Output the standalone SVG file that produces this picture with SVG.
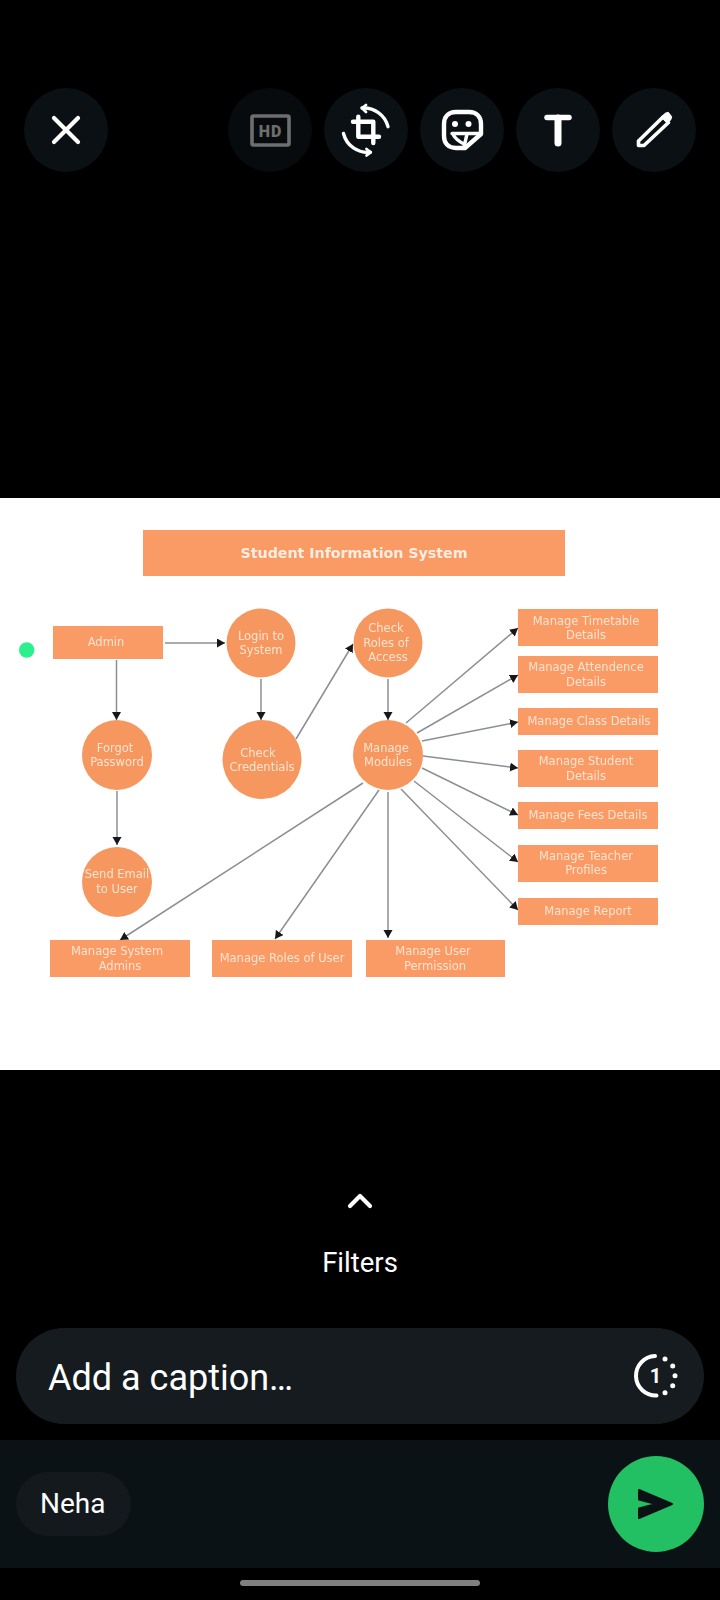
<svg xmlns="http://www.w3.org/2000/svg" width="720" height="1600" viewBox="0 0 720 1600">
<style>
.box{fill:#fa9b66}
.cir{fill:#f6975f}
.t{font-family:"DejaVu Sans",sans-serif;font-size:11.5px;fill:#fde3d0;text-anchor:middle}
.c{stroke:#8b8f94;stroke-width:1.5;fill:none;marker-end:url(#ah)}
.ui{font-family:Roboto,sans-serif;fill:#fff}
.btn{fill:#0a1013}
.ic{fill:none;stroke:#fff;stroke-linecap:round;stroke-linejoin:round}
</style>
<defs>
<marker id="ah" markerUnits="userSpaceOnUse" markerWidth="9" markerHeight="10" refX="8" refY="4.5" orient="auto"><path d="M0 0L8 4.5L0 9Z" fill="#16181a"/></marker>
<filter id="soft" x="-5%" y="-5%" width="110%" height="110%"><feGaussianBlur stdDeviation="0.55"/></filter>
</defs>
<rect width="720" height="1600" fill="#000"/>
<g id="toolbar">
<g id="btn-close"><circle class="btn" cx="66" cy="130" r="42"/><path class="ic" stroke-width="4.200" d="M54 118L78 142M78 118L54 142"/></g>
<g id="btn-hd"><circle cx="270" cy="130" r="42" fill="#070b0d"/><rect x="252" y="116" width="37" height="29" rx="1.5" fill="none" stroke="#6e6e6e" stroke-width="3.6"/><text x="270.500" y="136.500" font-family="Roboto,sans-serif" font-weight="900" font-size="16" letter-spacing="1" fill="#6e6e6e" text-anchor="middle">HD</text></g>
<g id="btn-crop"><circle class="btn" cx="366" cy="130" r="42"/><path class="ic" stroke-width="4.400" d="M353 121.700H373.300V143M358.300 116.700V136.700H379"/><path class="ic" stroke-width="3.400" d="M362 108A25 25 0 0 1 388 126.700M343.500 133.500A25 25 0 0 0 370.500 152.300"/><path class="ic" stroke-width="2.800" d="M362 108L366 105M362 108L366 112M370.500 152.300L366.500 149M370.500 152.300L366.500 155.500"/></g>
<g id="btn-sticker"><circle class="btn" cx="462" cy="130" r="42"/><path class="ic" stroke-width="4.400" d="M456 112H469C476.500 112 481 116.500 481 124V134L465 148H456C448.500 148 444 143.500 444 136V124C444 116.500 448.500 112 456 112Z"/><circle cx="455" cy="124" r="3" fill="#fff"/><circle cx="468.500" cy="124" r="3" fill="#fff"/><path class="ic" stroke-width="3.400" d="M452 133.500H480M453 134.500C456 140 460 142 464 144M467 134L464 147"/></g>
<g id="btn-text"><circle class="btn" cx="558" cy="130" r="42"/><path class="ic" stroke-width="5.500" d="M547 117.500H569"/><path class="ic" stroke-width="7" d="M558 118V143"/></g>
<g id="btn-pen"><circle class="btn" cx="654" cy="130" r="42"/><path class="ic" stroke-width="3.600" d="M638.500 145.500V141L663 117L668.500 122.500L644 145.500Z"/><path d="M665 113.300L668.300 112.300L671.700 116.700L670.700 120L667.300 123.300L661.700 116.700Z" fill="#fff" stroke="#fff" stroke-width="1" stroke-linejoin="round"/></g>
</g>
<rect x="0" y="498" width="720" height="572" fill="#fff"/>
<g id="diagram" filter="url(#soft)">
<g id="connectors">
<path class="c" d="M165 643H225"/>
<path class="c" d="M116.500 660V720"/>
<path class="c" d="M117 791V845"/>
<path class="c" d="M261 679V720"/>
<path class="c" d="M296 739L353 644"/>
<path class="c" d="M388 679V720"/>
<path class="c" d="M406 723L518 628"/>
<path class="c" d="M417 733L518 675"/>
<path class="c" d="M422 741L518 722"/>
<path class="c" d="M423 756L518 768"/>
<path class="c" d="M422 768L518 815"/>
<path class="c" d="M414 781L518 862"/>
<path class="c" d="M401 789L518 910"/>
<path class="c" d="M388 792V938"/>
<path class="c" d="M379 790L275 939"/>
<path class="c" d="M363 783L120 940"/>
</g>
<g id="title"><rect class="box" x="143" y="530" width="422" height="46"/><text x="354" y="557.500" font-family="DejaVu Sans,sans-serif" font-weight="700" font-size="14.200" fill="#fdeee2" text-anchor="middle">Student Information System</text></g>
<g id="admin"><rect class="box" x="53" y="626" width="110" height="33"/><text class="t" x="106" y="646">Admin</text></g>
<g id="login"><circle class="cir" cx="261" cy="643" r="34.500"/><text class="t" x="261" y="640">Login to</text><text class="t" x="261" y="654">System</text></g>
<g id="roles"><circle class="cir" cx="388" cy="643" r="34.500"/><text class="t" x="386" y="632">Check</text><text class="t" x="386" y="647">Roles of</text><text class="t" x="388" y="661">Access</text></g>
<g id="forgot"><circle class="cir" cx="117" cy="755" r="35"/><text class="t" x="115" y="752">Forgot</text><text class="t" x="117" y="766">Password</text></g>
<g id="credentials"><circle class="cir" cx="262" cy="759.500" r="39.500"/><text class="t" x="258" y="757">Check</text><text class="t" x="262" y="771">Credentials</text></g>
<g id="modules"><circle class="cir" cx="388" cy="755" r="35"/><text class="t" x="386" y="752">Manage</text><text class="t" x="388" y="766">Modules</text></g>
<g id="email"><circle class="cir" cx="117" cy="882" r="35"/><text class="t" x="117" y="878">Send Email</text><text class="t" x="117" y="893">to User</text></g>
<g id="timetable"><rect class="box" x="518" y="609" width="140" height="37"/><text class="t" x="586" y="625">Manage Timetable</text><text class="t" x="586" y="639">Details</text></g>
<g id="attendence"><rect class="box" x="518" y="656" width="140" height="37"/><text class="t" x="586" y="671">Manage Attendence</text><text class="t" x="586" y="686">Details</text></g>
<g id="class"><rect class="box" x="518" y="708" width="140" height="27"/><text class="t" x="589" y="725">Manage Class Details</text></g>
<g id="student"><rect class="box" x="518" y="750" width="140" height="37"/><text class="t" x="586" y="765">Manage Student</text><text class="t" x="586" y="780">Details</text></g>
<g id="fees"><rect class="box" x="518" y="802" width="140" height="27"/><text class="t" x="588" y="819">Manage Fees Details</text></g>
<g id="teacher"><rect class="box" x="518" y="845" width="140" height="37"/><text class="t" x="586" y="860">Manage Teacher</text><text class="t" x="586" y="874">Profiles</text></g>
<g id="report"><rect class="box" x="518" y="898" width="140" height="27"/><text class="t" x="588" y="915">Manage Report</text></g>
<g id="sysadmins"><rect class="box" x="50" y="940" width="140" height="37"/><text class="t" x="117" y="955">Manage System</text><text class="t" x="120" y="970">Admins</text></g>
<g id="userroles"><rect class="box" x="212" y="940" width="140" height="37"/><text class="t" x="282" y="962">Manage Roles of User</text></g>
<g id="permission"><rect class="box" x="366" y="940" width="139" height="37"/><text class="t" x="433" y="955">Manage User</text><text class="t" x="435" y="970">Permission</text></g>
</g>
<circle id="marker-dot" cx="26.700" cy="650" r="7.700" fill="#2cf08c"/>
<g id="filters"><path d="M350 1206L360 1196L370 1206" fill="none" stroke="#fff" stroke-width="4.200" stroke-linecap="round" stroke-linejoin="round"/><text class="ui" x="360" y="1271.500" font-size="27.500" text-anchor="middle">Filters</text></g>
<g id="caption"><rect x="16" y="1328" width="688" height="96" rx="48" fill="#151b1f"/><text class="ui" x="48" y="1389.500" font-size="36">Add a caption…</text>
<path d="M655 1356A19.500 19.500 0 0 0 656.500 1395.500" fill="none" stroke="#fff" stroke-width="4" stroke-linecap="round"/>
<circle cx="665" cy="1359" r="2.500" fill="#fff"/><circle cx="672.700" cy="1366" r="2.500" fill="#fff"/><circle cx="675" cy="1375.700" r="2.500" fill="#fff"/><circle cx="672.700" cy="1385.700" r="2.500" fill="#fff"/><circle cx="665" cy="1392.700" r="2.500" fill="#fff"/>
<text class="ui" x="655.500" y="1382.500" font-size="20" font-weight="700" text-anchor="middle">1</text></g>
<g id="bottom-bar"><rect y="1440" width="720" height="128" fill="#0b1215"/>
<g id="chip"><rect x="16" y="1472" width="115" height="64" rx="32" fill="#14191d"/><text class="ui" x="40" y="1513" font-size="28" fill="#eef0f1">Neha</text></g>
<g id="send"><circle cx="656" cy="1504" r="48" fill="#22c063"/><path d="M639 1490L672 1504L639 1518V1508.500L656 1504L639 1499.500Z" fill="#0b1215" stroke="#0b1215" stroke-width="2" stroke-linejoin="round"/></g></g>
<rect id="home-indicator" x="240" y="1580" width="240" height="6" rx="3" fill="#808080"/>
</svg>
